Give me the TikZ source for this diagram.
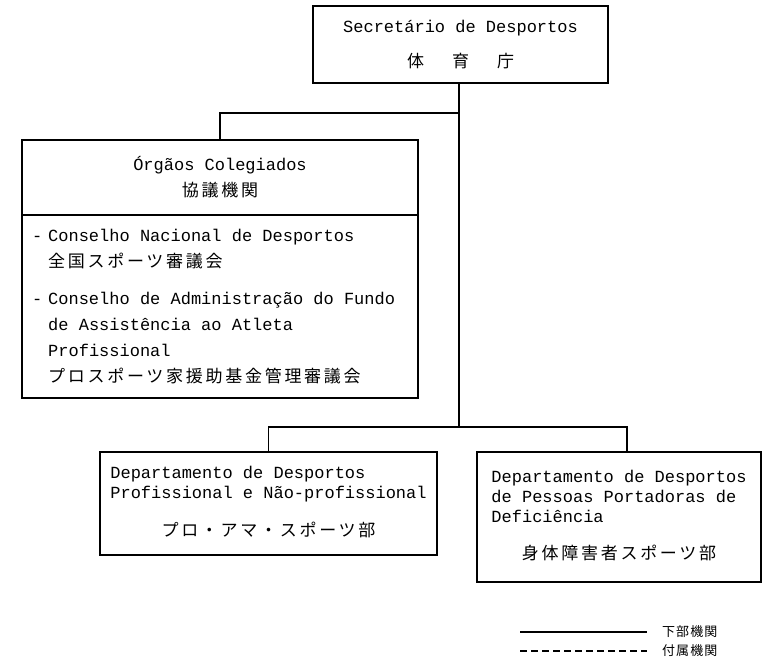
\documentclass[tikz,border=0pt]{standalone}
\usepackage{fontspec}
\newfontfamily\latmono{Liberation Mono}
\newfontfamily\jpfont[LetterSpace=16]{Noto Sans CJK JP}
\newfontfamily\jplegend[LetterSpace=8]{Noto Sans CJK JP}
\newcommand{\jp}[1]{{\jpfont\fontsize{17}{20}\selectfont #1}}
\usetikzlibrary{positioning}

\begin{document}
\begin{tikzpicture}[
    x=1pt, y=-1pt,
    unit/.style={draw,line width=2.2pt,inner sep=0pt,
                 font=\latmono\fontsize{17}{20}\selectfont},
    sub/.style={line width=1.4pt},
    attached/.style={line width=1.4pt,dash pattern=on 7pt off 4pt},
    legtext/.style={font=\jplegend\fontsize{13}{15}\selectfont,anchor=west,inner sep=0pt},
  ]
  \useasboundingbox (0,0) rectangle (763,671);

  % --- head of the secretariat ---
  \node[unit,minimum width=295pt,minimum height=77pt,align=center] (sec) at (460.5,44.5)
    {Secretário de Desportos\\[15pt]\jp{体\hspace{28pt}育\hspace{28pt}庁}};

  % --- collegiate organs (title + list) ---
  \node[unit,minimum width=396pt,minimum height=75pt,align=center] (org) at (220,177.5)
    {Órgãos Colegiados\\[6pt]\jp{協議機関}};
  \node[unit,minimum width=396pt,minimum height=183pt,
        font=\latmono\fontsize{17}{26}\selectfont]
        (orglist) at (220,306.5) {\makebox[376pt][l]{%
    \begin{tabular}{@{}l@{\hspace{6pt}}l@{}}
      - & Conselho Nacional de Desportos\\
        & \jp{全国スポーツ審議会}\\[11pt]
      - & Conselho de Administração do Fundo\\
        & de Assistência ao Atleta\\
        & Profissional\\
        & \jp{プロスポーツ家援助基金管理審議会}
    \end{tabular}}};

  % --- departments ---
  \node[unit,minimum width=337pt,minimum height=103pt] (dl) at (268.5,503.5) {%
    \begin{tabular}{@{}l@{}}
      Departamento de Desportos\\
      Profissional e Não-profissional\\[18pt]
      \multicolumn{1}{@{}c@{}}{\jp{プロ・アマ・スポーツ部}}
    \end{tabular}};
  \node[unit,minimum width=284pt,minimum height=130pt] (dr) at (619,517) {%
    \begin{tabular}{@{}l@{}}
      Departamento de Desportos\\
      de Pessoas Portadoras de\\
      Deficiência\\[17pt]
      \multicolumn{1}{@{}c@{}}{\jp{身体障害者スポーツ部}}
    \end{tabular}};

  % --- subordinate connectors ---
  \coordinate (jt) at (459,113);
  \coordinate (jb) at (459,427);
  \coordinate (jr) at (627,427);
  \draw[sub] (jt |- sec.south) -- (jb);
  \draw[sub] (jt) -| (org.north);
  \draw[sub] (dl.north) |- (jb) -- (jr) -- (jr |- dr.north);

  % --- legend ---
  \node[legtext] (legsub) at (662,632) {下部機関};
  \node[legtext] (legatt) at (662,651) {付属機関};
  \coordinate (ls) at (520,632);
  \coordinate (la) at (520,651);
  \draw[sub] (ls) -- ([xshift=-15pt]legsub.west);
  \draw[attached] (la) -- ([xshift=-15pt]legatt.west);

\end{tikzpicture}
\end{document}
